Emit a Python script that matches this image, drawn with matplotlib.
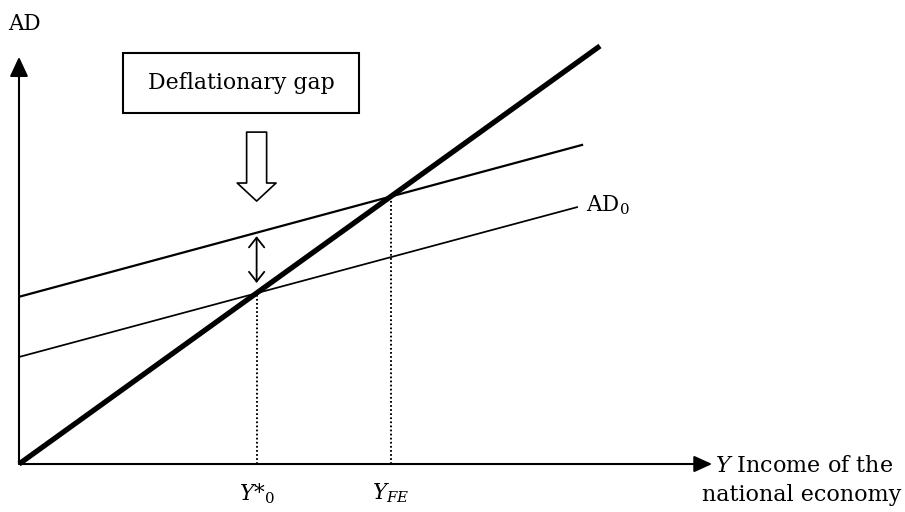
import numpy as np
import matplotlib.pyplot as plt
from matplotlib.patches import Rectangle

plt.rcParams['font.family'] = ['DejaVu Serif']
plt.rcParams['mathtext.fontset'] = 'dejavuserif'

# %% data -----

# 45 degree line (AD = Y)
line45_x = [0, 100]
line45_y = [0, 100]

# aggregate demand after the gap is closed
ad1_x = [0, 97.1]
ad1_y = [40.0, 76.4]

# initial aggregate demand AD0
ad0_x = [0, 96.2]
ad0_y = [25.6, 61.5]

y_star0 = 40.9   # current equilibrium income
y_fe = 64.0      # full employment income
y_star0_ad = 40.9
y_fe_ad = 64.0

gap_arrow = [43.3, 54.5]     # double arrow between the two AD lines
hollow_arrow = [79.4, 62.9]  # big arrow under the box

x_axis_end = 119.3
y_axis_end = 97.4

# %% plot -----

fig = plt.figure(figsize=(9.05, 5.12), dpi=100)
ax = fig.add_axes([0, 0, 1, 1])
ax.set_xlim(-3.27, 152.5)
ax.set_ylim(-11.48, 111.0)
ax.axis('off')

# axes with arrow heads
ax.annotate('', xy=(0, y_axis_end), xytext=(0, 0),
            arrowprops=dict(arrowstyle='-|>,head_length=0.6,head_width=0.28',
                            lw=1.5, color='black', shrinkA=0, shrinkB=0,
                            mutation_scale=20))
ax.annotate('', xy=(x_axis_end, 0), xytext=(0, 0),
            arrowprops=dict(arrowstyle='-|>,head_length=0.55,head_width=0.25',
                            lw=1.5, color='black', shrinkA=0, shrinkB=0,
                            mutation_scale=20))

ax.plot(line45_x, line45_y, color='black', lw=3.8, solid_capstyle='butt')
ax.plot(ad1_x, ad1_y, color='black', lw=1.6, solid_capstyle='butt')
ax.plot(ad0_x, ad0_y, color='black', lw=1.25, solid_capstyle='butt')

ax.plot([y_star0, y_star0], [0, y_star0_ad], color='black', lw=1.4,
        linestyle=(0, (0.9, 1.2)))
ax.plot([y_fe, y_fe], [0, y_fe_ad], color='black', lw=1.4,
        linestyle=(0, (0.9, 1.2)))

# gap arrow
ax.annotate('', xy=(y_star0, gap_arrow[1]), xytext=(y_star0, gap_arrow[0]),
            arrowprops=dict(arrowstyle='<->,head_length=0.7,head_width=0.55',
                            lw=1.3, color='black', shrinkA=0, shrinkB=0,
                            mutation_scale=10))

# hollow arrow
ax.annotate('', xy=(y_star0, hollow_arrow[1]), xytext=(y_star0, hollow_arrow[0]),
            arrowprops=dict(arrowstyle='simple,head_length=1.3,head_width=2.8,tail_width=1.44',
                            fc='white', ec='black', lw=1.2, shrinkA=0, shrinkB=0,
                            mutation_scale=10))

# box
ax.add_patch(Rectangle((17.9, 84.0), 40.6, 14.3, fill=False, ec='black', lw=1.5))
ax.text(38.2, 91.1, 'Deflationary gap', ha='center', va='center', fontsize=15.8)

ax.text(-1.9, 105.2, 'AD', ha='left', va='center', fontsize=15.5)
ax.text(97.6, 61.9, r'AD$_0$', ha='left', va='center', fontsize=15.5)

ax.text(y_star0, -7.0, r'$Y$*$_0$', ha='center', va='center', fontsize=15.5)
ax.text(y_fe, -7.0, r'$Y_{FE}$', ha='center', va='center', fontsize=15.5)

ax.text(119.8, -0.4, r'$Y$ Income of the', ha='left', va='center', fontsize=16)
ax.text(117.6, -7.3, 'national economy', ha='left', va='center', fontsize=16)

plt.savefig('out.png', dpi=100)
